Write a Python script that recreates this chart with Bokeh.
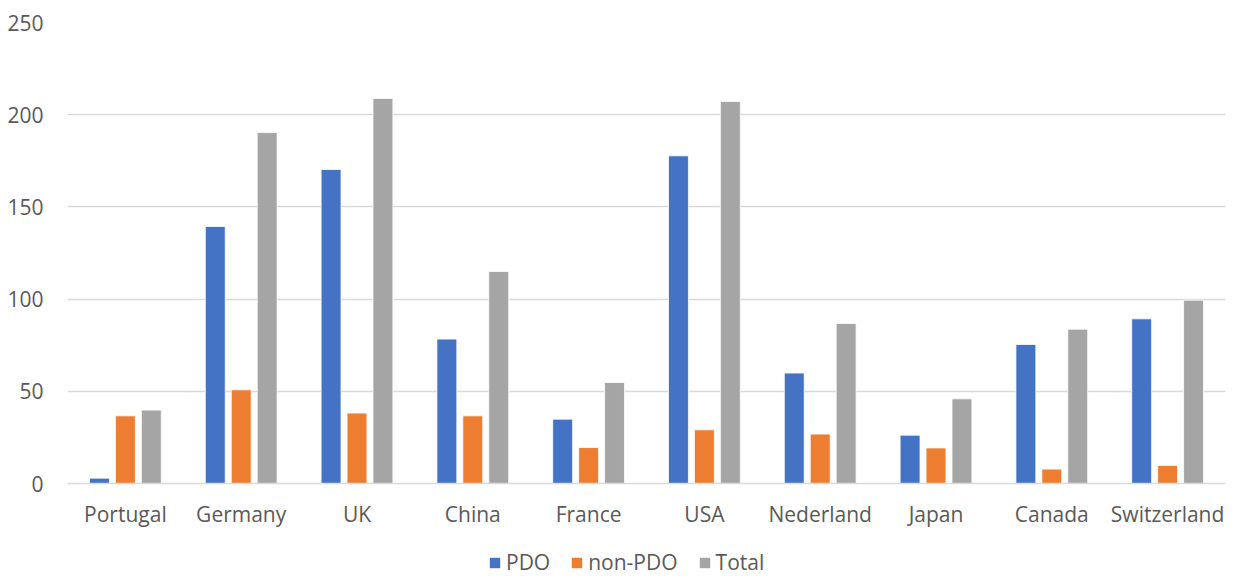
from bokeh.plotting import figure
from bokeh.models import ColumnDataSource, Legend, LegendItem, FactorRange, SingleIntervalTicker
from bokeh.layouts import column
from bokeh.transform import dodge
from bokeh.embed import file_html
from bokeh.resources import INLINE

countries = ["Portugal", "Germany", "UK", "China", "France", "USA", "Nederland", "Japan", "Canada", "Switzerland"]
pdo = [2.9, 139.4, 170.3, 78.3, 34.9, 177.7, 59.9, 26.2, 75.4, 89.3]
non_pdo = [36.7, 50.8, 38.2, 36.7, 19.5, 29.1, 26.8, 19.3, 7.8, 9.8]
total = [39.8, 190.3, 208.8, 115.0, 54.8, 207.2, 86.8, 45.9, 83.7, 99.4]
series_names = ["PDO", "non-PDO", "Total"]
colors = ["#4472C4", "#ED7D31", "#A5A5A5"]

src = ColumnDataSource(dict(country=countries, PDO=pdo, nonPDO=non_pdo, Total=total))

FONT = "Open Sans"
TXT = "#595959"
FS = "21px"

p = figure(x_range=FactorRange(*countries, range_padding=0), y_range=(0, 250),
           width=1234, height=532, output_backend="svg", toolbar_location=None,
           min_border_left=67, min_border_right=9, min_border_top=22, min_border_bottom=49)

w = 0.172
off = 0.224
p.vbar(x=dodge("country", -off, range=p.x_range), top="PDO", width=w, source=src,
       fill_color=colors[0], line_color="white", line_width=0.8)
p.vbar(x=dodge("country", 0, range=p.x_range), top="nonPDO", width=w, source=src,
       fill_color=colors[1], line_color="white", line_width=0.8)
p.vbar(x=dodge("country", off, range=p.x_range), top="Total", width=w, source=src,
       fill_color=colors[2], line_color="white", line_width=0.8)

p.outline_line_color = None
p.background_fill_color = "white"
p.border_fill_color = "white"

p.xgrid.grid_line_color = None
p.ygrid.grid_line_color = "#D9D9D9"
p.ygrid.grid_line_width = 1.3
p.yaxis.ticker = SingleIntervalTicker(interval=50)

p.yaxis.axis_line_color = None
p.yaxis.major_tick_line_color = None
p.yaxis.minor_tick_line_color = None
p.yaxis.major_label_text_font = FONT
p.yaxis.major_label_text_font_size = FS
p.yaxis.major_label_text_color = TXT
p.yaxis.major_label_standoff = 18

p.xaxis.axis_line_color = "#D9D9D9"
p.xaxis.axis_line_width = 1.3
p.xaxis.major_tick_line_color = None
p.xaxis.minor_tick_line_color = None
p.xaxis.major_label_text_font = FONT
p.xaxis.major_label_text_font_size = FS
p.xaxis.major_label_text_color = TXT
p.xaxis.major_label_standoff = 10

# legend strip below the chart (its renderers hold a point outside the visible range)
lg = figure(width=1234, height=44, x_range=(0, 1), y_range=(0, 1), output_backend="svg",
            toolbar_location=None, min_border=0)
lg.axis.visible = False
lg.grid.visible = False
lg.outline_line_color = None
lg.border_fill_color = "white"
lr = [lg.vbar(x=[-5], top=[-5], width=0.1, fill_color=c, line_color=None) for c in colors]

legend = Legend(items=[LegendItem(label=n, renderers=[r]) for n, r in zip(series_names, lr)],
                orientation="horizontal", location=(421, 0))
legend.label_text_font = FONT
legend.label_text_font_size = FS
legend.label_text_color = TXT
legend.glyph_width = 13
legend.glyph_height = 13
legend.label_standoff = 5
legend.spacing = 20
legend.border_line_color = None
legend.background_fill_alpha = 0
legend.padding = 0
legend.margin = 0
lg.add_layout(legend, "center")

open("out.html", "w").write(file_html(column(p, lg, spacing=0), INLINE))
